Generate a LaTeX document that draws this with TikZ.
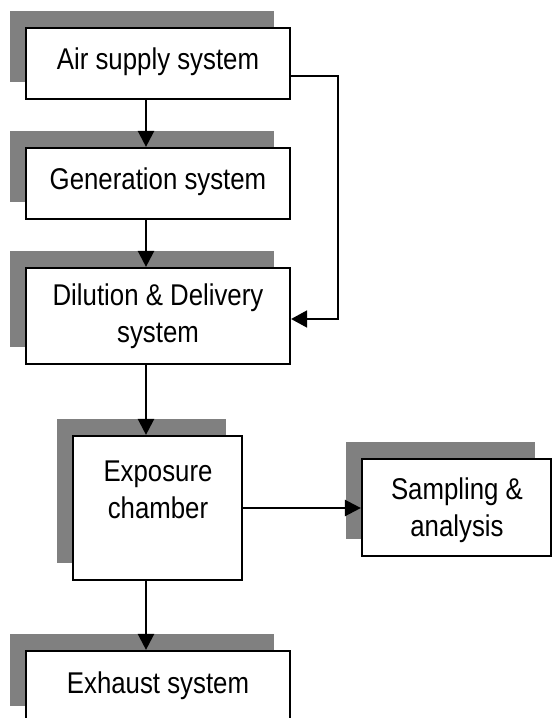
\documentclass[tikz,border=0pt]{standalone}
\usepackage{fontspec}
\setmainfont{Liberation Sans}[FakeStretch=0.86]
\usetikzlibrary{arrows.meta,shadows}
\begin{document}
\begin{tikzpicture}[x=1pt,y=-1pt,
  box/.style={draw=black, line width=2.2pt, fill=white, inner sep=0pt,
    general shadow={fill=shadowgray, shadow xshift=-16pt, shadow yshift=17pt}},
  txt/.style={font=\fontsize{30}{37}\selectfont, align=center, inner sep=0pt},
  flow/.style={line width=2.4pt, -{Triangle[length=16pt,width=16pt]}},
  side/.style={line width=1.8pt, -{Triangle[length=16pt,width=17pt]}}]
\definecolor{shadowgray}{HTML}{808080}
\useasboundingbox (0,0) rectangle (552,718);
\coordinate (ax) at (146,0);
\node[box, minimum width=264pt, minimum height=71pt] (b1) at (158,63.5) {};
\node[txt] (t1) at (158,62) {Air supply system};
\node[box, minimum width=264pt, minimum height=71pt] (b2) at (158,183.5) {};
\node[txt] (t2) at (158,182) {Generation system};
\node[box, minimum width=264pt, minimum height=96pt] (b3) at (158,316) {};
\node[txt] (t3) at (158,316) {Dilution \& Delivery\\system};
\node[box, minimum width=169pt, minimum height=144pt] (b4) at (157.5,508) {};
\node[txt] (t4) at (158,490) {Exposure\\chamber};
\node[box, minimum width=189pt, minimum height=97pt] (b5) at (456.5,507.5) {};
\node[txt] (t5) at (457,510) {Sampling \&\\analysis};
\node[box, minimum width=264pt, minimum height=72pt] (b6) at (158,687) {};
\node[txt] (t6) at (158,686) {Exhaust system};
\coordinate (r1) at (338,76);
\coordinate (r2) at (338,319);
\draw[flow] (b1.south -| ax) -- (b2.north -| ax);
\draw[flow] (b2.south -| ax) -- (b3.north -| ax);
\draw[flow] (b3.south -| ax) -- (b4.north -| ax);
\draw[flow] (b4.south -| ax) -- (b6.north -| ax);
\draw[flow] (b4.east |- 0,508) -- (b5.west |- 0,508);
\draw[side] (b1.east |- r1) -- (r1) -- (r2) -- (b3.east |- r2);
\end{tikzpicture}
\end{document}
